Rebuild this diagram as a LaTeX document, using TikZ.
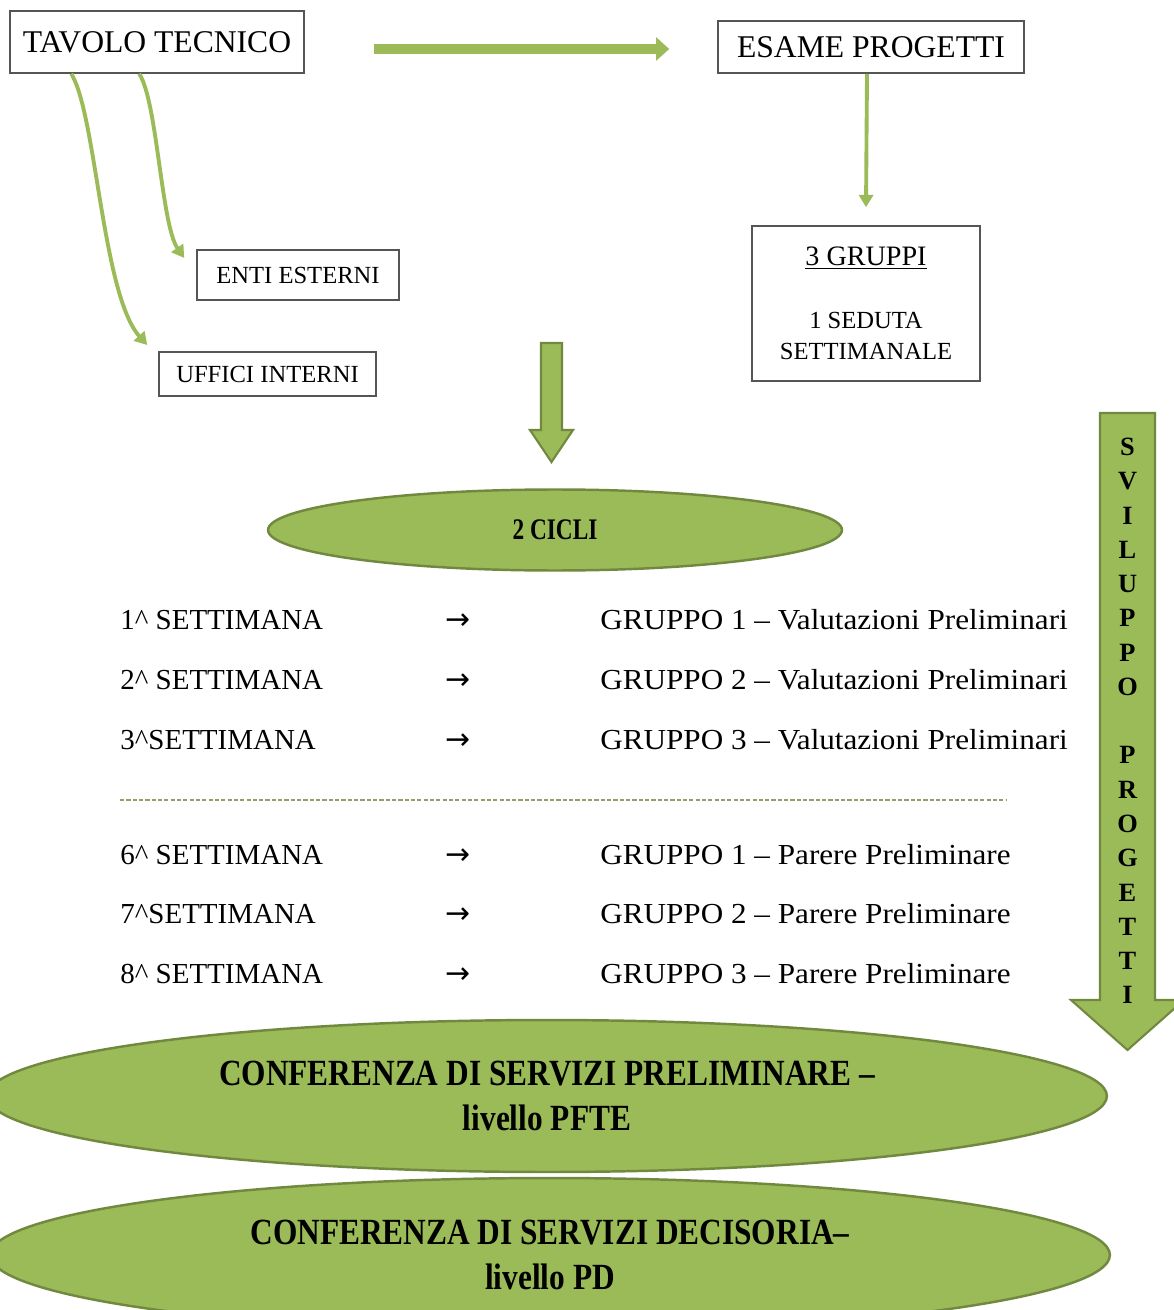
\documentclass[tikz,border=0pt]{standalone}
\usepackage{fontspec}
\setmainfont{Liberation Serif}
\newfontfamily\condbf{Liberation Serif}[FakeStretch=0.78]
\newfontfamily\confbf{Liberation Serif}[FakeStretch=0.85]
\newfontfamily\wideserif{Liberation Serif}[FakeStretch=1.075]
\newfontfamily\arrowfont{DejaVu Sans}
\usetikzlibrary{arrows.meta,positioning,calc,shapes.geometric}
\definecolor{olive}{HTML}{9BBB59}
\definecolor{olivedark}{HTML}{71893F}
\definecolor{boxline}{HTML}{555555}
\tikzset{
  >=Stealth,
  box/.style={rectangle, draw=boxline, line width=0.9pt, inner sep=0pt, align=center},
  greenoval/.style={ellipse, draw=olivedark, line width=1.4pt, fill=olive, inner sep=0pt, align=center},
  link/.style={draw=olive, line width=2.2pt, -{Triangle[length=7pt,width=8pt]}},
  blockarrow/.style={draw=olivedark, line width=1.2pt, fill=olive, line join=miter},
  weekrow/.style={anchor=base west, inner sep=0pt, font=\fontsize{16.5}{20}\selectfont},
  grouprow/.style={weekrow, font=\wideserif\fontsize{16.5}{20}\selectfont},
  rowarrow/.style={anchor=base, inner sep=0pt, font=\arrowfont\fontsize{17}{20}\selectfont},
  dashline/.style={draw=olive!55!gray, line width=1.7pt, dash pattern=on 2.4pt off 1.2pt}
}
\begin{document}
\begin{tikzpicture}[x=0.02cm, y=-0.02cm]
    \path[use as bounding box] (0,0) rectangle (1173,1310);
    % top boxes
    \node[box, minimum width=5.88cm, minimum height=1.24cm, font=\fontsize{18}{20}\selectfont] (tavolo) at (157,42) {TAVOLO TECNICO};
    \node[box, minimum width=6.12cm, minimum height=1.04cm, font=\fontsize{18}{20}\selectfont] (esame) at (871,47) {ESAME PROGETTI};
    \node[box, minimum width=4.04cm, minimum height=1.0cm, font=\fontsize{14}{16}\selectfont] (enti) at (298,275) {ENTI ESTERNI};
    \node[box, minimum width=4.34cm, minimum height=0.88cm, font=\fontsize{14}{16}\selectfont] (uffici) at (267.5,374) {UFFICI INTERNI};
    \node[box, minimum width=4.56cm, minimum height=3.1cm, font=\fontsize{14}{17.6}\selectfont] (gruppi) at (866,303.5)
        {{\fontsize{16}{17.6}\selectfont\underline{3 GRUPPI}}\\[18pt]1 SEDUTA\\SETTIMANALE};
    \draw[olive, line width=6pt, -{Triangle[length=7.5pt,width=13pt]}] ($(tavolo.east)+(69,7)$) -- ($(esame.west)+(-48,2)$);
    \draw[link] ($(esame.south)+(-4,0)$) -- ($(gruppi.north)+(0,-18)$);
    \draw[link] ($(tavolo.south west)+(130,0)$) .. controls +(18,27) and +(-23,-33) .. ($(enti.west)+(-12,-17)$);
    \draw[link] ($(tavolo.south west)+(62,0)$) .. controls +(25,40) and +(-45,-50) .. ($(uffici.west)+(-11,-29)$);
    % block arrows
    \draw[blockarrow] (541,343) -- (562,343) -- (562,430) -- (573,430) -- (551.5,462) -- (530,430) -- (541,430) -- cycle;
    \draw[blockarrow] (1100,413) -- (1155,413) -- (1155,1000) -- (1184,1000) -- (1127.5,1050) -- (1071,1000) -- (1100,1000) -- cycle;
    \node[font=\bfseries\fontsize{15}{19.5}\selectfont, align=center, inner sep=0pt] (sviluppo) at (1127.5,721)
        {S\\V\\I\\L\\U\\P\\P\\O\\[19.5pt]P\\R\\O\\G\\E\\T\\T\\I};
    \node[greenoval, minimum width=11.48cm, minimum height=1.62cm, font=\condbf\bfseries\fontsize{17}{20}\selectfont] (cicli) at (555,530) {2 CICLI};
    % weeks
    \node[weekrow] (sett1) at (120,629) {1\textasciicircum{} SETTIMANA};
    \node[weekrow] (sett2) at (120,689) {2\textasciicircum{} SETTIMANA};
    \node[weekrow] (sett3) at (120,749) {3\textasciicircum{}SETTIMANA};
    \node[weekrow] (sett6) at (120,864) {6\textasciicircum{} SETTIMANA};
    \node[weekrow] (sett7) at (120,923) {7\textasciicircum{}SETTIMANA};
    \node[weekrow] (sett8) at (120,983) {8\textasciicircum{} SETTIMANA};
    \node[rowarrow] (freccia1) at (458,629) {→};
    \node[rowarrow] (freccia2) at (458,689) {→};
    \node[rowarrow] (freccia3) at (458,749) {→};
    \node[rowarrow] (freccia6) at (458,864) {→};
    \node[rowarrow] (freccia7) at (458,923) {→};
    \node[rowarrow] (freccia8) at (458,983) {→};
    \node[grouprow] (grp1) at (600,629) {GRUPPO 1 – Valutazioni Preliminari};
    \node[grouprow] (grp2) at (600,689) {GRUPPO 2 – Valutazioni Preliminari};
    \node[grouprow] (grp3) at (600,749) {GRUPPO 3 – Valutazioni Preliminari};
    \node[grouprow] (grp6) at (600,864) {GRUPPO 1 – Parere Preliminare};
    \node[grouprow] (grp7) at (600,923) {GRUPPO 2 – Parere Preliminare};
    \node[grouprow] (grp8) at (600,983) {GRUPPO 3 – Parere Preliminare};
    \draw[dashline] (120,800) -- (1007,800);
    % conferences
    \node[greenoval, minimum width=22.4cm, minimum height=3.04cm, font=\confbf\bfseries\fontsize{21}{25.5}\selectfont] (prelim) at (547,1096)
        {CONFERENZA DI SERVIZI PRELIMINARE –\\livello PFTE};
    \node[greenoval, minimum width=22.4cm, minimum height=3.08cm, font=\confbf\bfseries\fontsize{21}{25.5}\selectfont] (decis) at (550,1255)
        {CONFERENZA DI SERVIZI DECISORIA–\\livello PD};
\end{tikzpicture}
\end{document}
